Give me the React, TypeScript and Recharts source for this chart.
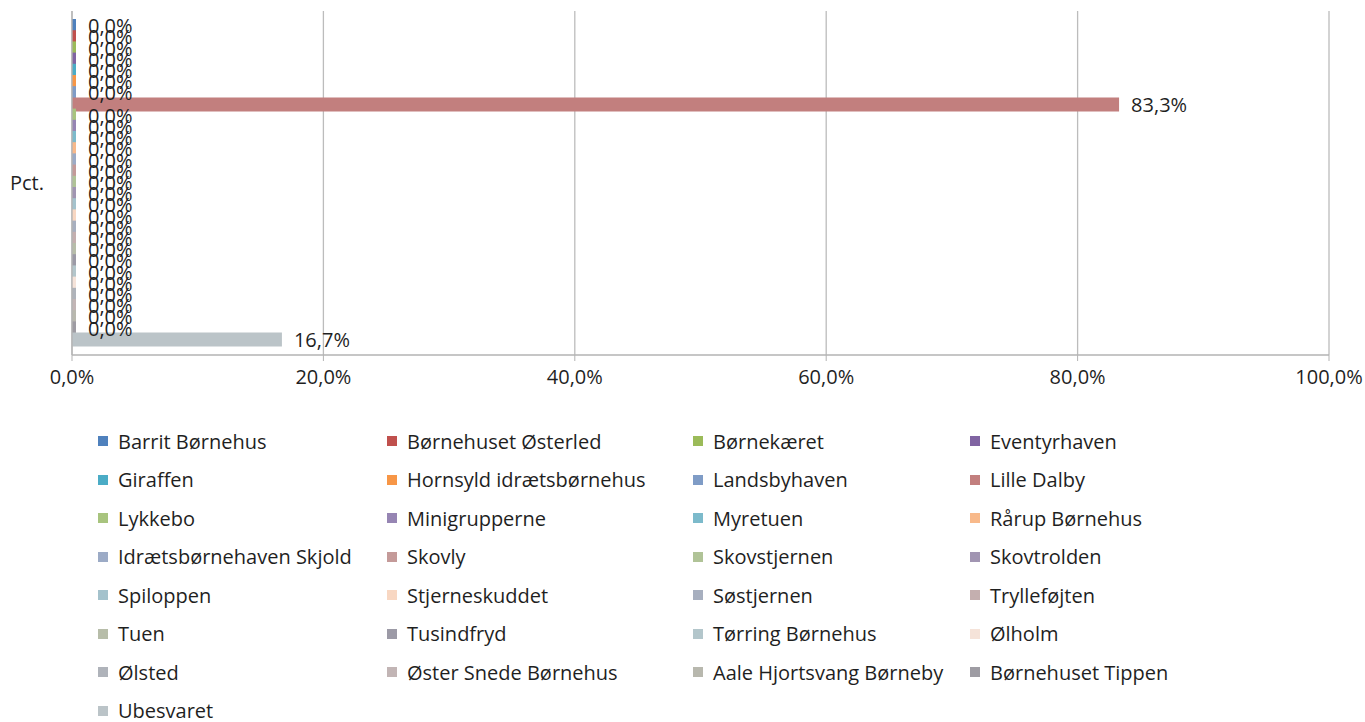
import React from 'react';
import { BarChart, Bar, XAxis, YAxis, CartesianGrid, Legend, LabelList } from 'recharts';

const categories = ['Pct.'];

const seriesNames = [
  'Barrit Børnehus', 'Børnehuset Østerled', 'Børnekæret', 'Eventyrhaven',
  'Giraffen', 'Hornsyld idrætsbørnehus', 'Landsbyhaven', 'Lille Dalby',
  'Lykkebo', 'Minigrupperne', 'Myretuen', 'Rårup Børnehus',
  'Idrætsbørnehaven Skjold', 'Skovly', 'Skovstjernen', 'Skovtrolden',
  'Spiloppen', 'Stjerneskuddet', 'Søstjernen', 'Trylleføjten',
  'Tuen', 'Tusindfryd', 'Tørring Børnehus', 'Ølholm',
  'Ølsted', 'Øster Snede Børnehus', 'Aale Hjortsvang Børneby', 'Børnehuset Tippen',
  'Ubesvaret',
];

const seriesValues = [
  0, 0, 0, 0,
  0, 0, 0, 0.833,
  0, 0, 0, 0,
  0, 0, 0, 0,
  0, 0, 0, 0,
  0, 0, 0, 0,
  0, 0, 0, 0,
  0.167,
];

const seriesColors = [
  '#4F81BD', '#C0504D', '#9BBB59', '#8064A2',
  '#4BACC6', '#F79646', '#7F9CC6', '#C27F7E',
  '#A8C47E', '#9685B3', '#7CBACB', '#F8B98A',
  '#9CABC6', '#C49A99', '#B0C397', '#A195B2',
  '#A4C2CC', '#F8D7C2', '#A7AFBF', '#C4AFAF',
  '#B7BDA9', '#9C9AA6', '#B3C6CB', '#F5E3D9',
  '#AFB3BA', '#C2B5B5', '#B8B8AE', '#9E9CA3',
  '#BBC4C8',
];

const xTicks = [0, 0.2, 0.4, 0.6, 0.8, 1];

const data = categories.map((c) => {
  const row: Record<string, any> = { cat: c };
  seriesValues.forEach((v, i) => {
    row['s' + i] = v;
  });
  return row;
});

const FONT = '"Open Sans", "Noto Sans", sans-serif';
const TEXT = '#1f1f1f';
const pct = (v: any) => (Number(v) * 100).toFixed(1).replace('.', ',') + '%';

const colX = [98, 387, 693, 970];
const rowY0 = 441;
const rowStep = 38.5;

const LegendContent = (props: any) => {
  const payload = props.payload || [];
  const items = seriesNames.map((n) => payload.find((p: any) => p.value === n)).filter(Boolean);
  return (
    <div style={{ position: 'relative', width: 1365, height: 310 }}>
      {items.map((p: any, i: number) => {
        const col = i % 4;
        const row = Math.floor(i / 4);
        const cy = rowY0 + row * rowStep - 420;
        return (
          <div key={p.value} style={{ position: 'absolute', left: colX[col], top: cy - 15, height: 30, display: 'flex', alignItems: 'center', whiteSpace: 'nowrap' }}>
            <span style={{ display: 'inline-block', width: 10, height: 10, background: p.color, marginRight: 10 }} />
            <span style={{ fontFamily: FONT, fontSize: 20, color: TEXT }}>{p.value}</span>
          </div>
        );
      })}
    </div>
  );
};

export default function App() {
  return (
    <div style={{ position: 'absolute', left: 0, top: 0, width: 1365, height: 722, background: '#fff' }}>
      <BarChart
        width={1365}
        height={722}
        data={data}
        layout="vertical"
        margin={{ top: 11, right: 36, left: 0, bottom: 319 }}
        barSize={14}
        barGap={-2.8}
      >
        <CartesianGrid horizontal={false} stroke="#bcbcbc" strokeWidth={1.3} />
        <XAxis
          type="number"
          domain={[0, 1]}
          ticks={xTicks}
          tickFormatter={pct}
          height={48}
          axisLine={{ stroke: '#b3b3b3', strokeWidth: 1.3 }}
          tickLine={{ stroke: '#b3b3b3' }}
          tickSize={6}
          tickMargin={9}
          tick={{ fontFamily: FONT, fontSize: 20, fill: TEXT }}
          interval={0}
        />
        <YAxis
          type="category"
          dataKey="cat"
          width={72}
          axisLine={{ stroke: '#b3b3b3', strokeWidth: 1.3 }}
          tickLine={false}
          tickMargin={22}
          tick={{ fontFamily: FONT, fontSize: 20, fill: TEXT }}
        />
        <Legend
          layout="horizontal"
          verticalAlign="middle"
          align="center"
          wrapperStyle={{ top: 420, left: 0, width: 1365 }}
          content={<LegendContent />}
        />
        {seriesNames.map((name, i) => (
          <Bar
            key={name}
            dataKey={'s' + i}
            name={name}
            fill={seriesColors[i]}
            minPointSize={4}
            isAnimationActive={false}
          >
            <LabelList
              dataKey={'s' + i}
              position="right"
              offset={12}
              formatter={pct}
              style={{ fontFamily: FONT, fontSize: 20, fill: TEXT }}
            />
          </Bar>
        ))}
      </BarChart>
    </div>
  );
}
